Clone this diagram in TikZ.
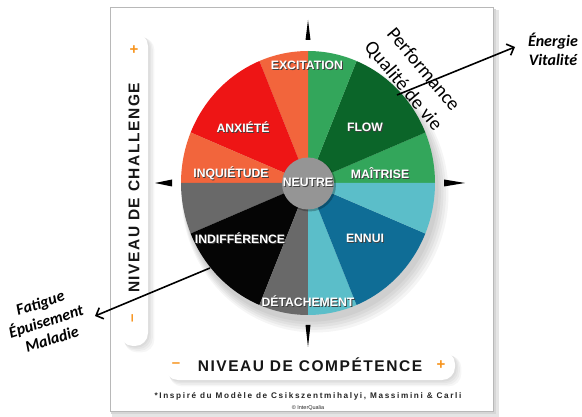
\documentclass[tikz,border=0pt]{standalone}
\usepackage{fontspec}
\setmainfont{Liberation Sans}
\newfontfamily\labfont{Liberation Sans}
\newfontfamily\axfont[LetterSpace=10]{Liberation Sans}
\newfontfamily\notefont[LetterSpace=20]{Liberation Sans}
\newfontfamily\handfont{Carlito}
\usetikzlibrary{arrows.meta}
\definecolor{worange}{HTML}{F2653C}
\definecolor{wred}{HTML}{EE1515}
\definecolor{wlgreen}{HTML}{33A65B}
\definecolor{wdgreen}{HTML}{0B6529}
\definecolor{wcyan}{HTML}{5BBEC9}
\definecolor{wblue}{HTML}{0F6D96}
\definecolor{wgray}{HTML}{696969}
\definecolor{wblack}{HTML}{050505}
\definecolor{wneutre}{HTML}{959595}
\definecolor{pm}{HTML}{F7941D}
\definecolor{axtext}{HTML}{161616}
\newcommand\shd[1]{\rlap{\kern0.9pt\raisebox{-0.9pt}{\color{black!75}#1}}#1}
\newcommand\wsector[3]{\fill[#3] (0,0) -- (#1:127 and 132) arc[start angle=#1, end angle=#2, x radius=127, y radius=132] -- cycle;}
\begin{document}
\begin{tikzpicture}[x=1pt,y=-1pt,
  lab/.style={text=white, inner sep=0pt, font=\labfont\bfseries\fontsize{12.2}{14}\selectfont},
  axis/.style={text=axtext, inner sep=0pt, font=\axfont\bfseries\fontsize{15.5}{17}\selectfont},
  pmsign/.style={text=pm, inner sep=0pt, font=\labfont\bfseries\fontsize{15}{16}\selectfont},
  note/.style={text=black!85, inner sep=0pt, font=\notefont\bfseries\fontsize{8.2}{9}\selectfont},
  hand/.style={text=black, inner sep=0pt, align=center, font=\handfont\fontsize{19.5}{26}\selectfont},
  handbi/.style={text=black, inner sep=0pt, align=center, font=\handfont\bfseries\itshape\fontsize{16}{19}\selectfont},
  annot/.style={line width=1.6pt, -{Straight Barb[length=6pt,width=12pt,line width=1.6pt]}},
  pointer/.style={fill=black}]
\useasboundingbox (0,0) rectangle (582,417);
\fill[white] (0,0) rectangle (582,417);
% card
\fill[black!10] (112,10) rectangle (499,417);
\fill[black!16] (111,9) rectangle (496,414);
\fill[white, draw=black!28, line width=0.7pt] (110,7) rectangle (493,411);
% pills shadows
\foreach \k in {1,...,4}{
  \fill[black, opacity=0.035, rounded corners=13pt] ({121+\k*0.8},{34+\k*0.8}) rectangle ({148+\k*1.6},{346+\k*1.6});
  \fill[black, opacity=0.035, rounded corners=13pt] ({166+\k*0.8},{352+\k*0.8}) rectangle ({455+\k*1.6},{380+\k*1.6});
}
\fill[white, rounded corners=13pt] (120,33) rectangle (148,346);
\fill[white, rounded corners=13pt] (165,351) rectangle (455,380);
% wheel shadow
\foreach \k in {1,...,5}{
  \fill[black, opacity=0.04] ({310+\k},{188+\k*1.2}) ellipse [x radius={126+\k*1.5}, y radius={131+\k*1.5}];
}
% wheel
\begin{scope}[shift={(308,183)}, yscale=-1]
  \wsector{0}{22.5}{wlgreen}
  \wsector{22.5}{67.5}{wdgreen}
  \wsector{67.5}{90}{wlgreen}
  \wsector{90}{112.5}{worange}
  \wsector{112.5}{157.5}{wred}
  \wsector{157.5}{180}{worange}
  \wsector{180}{202.5}{wgray}
  \wsector{202.5}{247.5}{wblack}
  \wsector{247.5}{270}{wgray}
  \wsector{270}{292.5}{wcyan}
  \wsector{292.5}{337.5}{wblue}
  \wsector{337.5}{360}{wcyan}
\end{scope}
\fill[black, opacity=0.25] (309.5,185) circle [radius=26.5];
\fill[wneutre] (308,183.5) circle [radius=26];
% compass pointers
\fill[pointer] (308,20) -- (305.5,40) -- (310.5,40) -- cycle;
\fill[pointer] (308,347) -- (305.5,325) -- (310.5,325) -- cycle;
\fill[pointer] (155,183) -- (172,179.5) -- (172,186.5) -- cycle;
\fill[pointer] (465,183) -- (444,179.5) -- (444,186.5) -- cycle;
% labels
\node[lab] (excitation) at (307,66) {\shd{EXCITATION}};
\node[lab] (anxiete) at (243,128) {\shd{ANXIÉTÉ}};
\node[lab] (flow) at (365,128) {\shd{FLOW}};
\node[lab] (inquietude) at (231,174) {\shd{INQUIÉTUDE}};
\node[lab] (maitrise) at (380,174) {\shd{MAÎTRISE}};
\node[lab] (neutre) at (308,183) {\shd{NEUTRE}};
\node[lab] (indifference) at (240,239) {\shd{INDIFFÉRENCE}};
\node[lab] (ennui) at (365,239) {\shd{ENNUI}};
\node[lab] (detachement) at (308,302) {\shd{DÉTACHEMENT}};
% axes
\node[axis, rotate=90] (vaxis) at (134,188) {NIVEAU DE CHALLENGE};
\node[pmsign] (vplus) at (134,50) {+};
\node[pmsign, rotate=90] (vminus) at (134,318) {–};
\node[axis] (haxis) at (310,365) {NIVEAU DE COMPÉTENCE};
\node[pmsign] (hminus) at (176,365) {–};
\node[pmsign] (hplus) at (441,365) {+};
% notes
\node[note] (credit) at (308,396) {*Inspiré du Modèle de Csikszentmihalyi, Massimini \& Carli};
\node[text=black!85, inner sep=0pt, font=\labfont\fontsize{5.5}{6}\selectfont] (copy) at (308,408) {© InterQualia};
% annotations
\node[hand, rotate=-50] (perf) at (413,78) {Performance\\Qualité de vie};
\node[handbi] (energie) at (553,49) {Énergie\\Vitalité};
\node[handbi, rotate=18] (fatigue) at (46,321) {Fatigue\\Épuisement\\Maladie};
\coordinate (upstart) at (397,95);
\coordinate (uptip) at (515,47);
\coordinate (downstart) at (210,268);
\coordinate (downtip) at (95,316);
\draw[annot] (upstart) -- (uptip);
\draw[annot] (downstart) -- (downtip);
\end{tikzpicture}
\end{document}
